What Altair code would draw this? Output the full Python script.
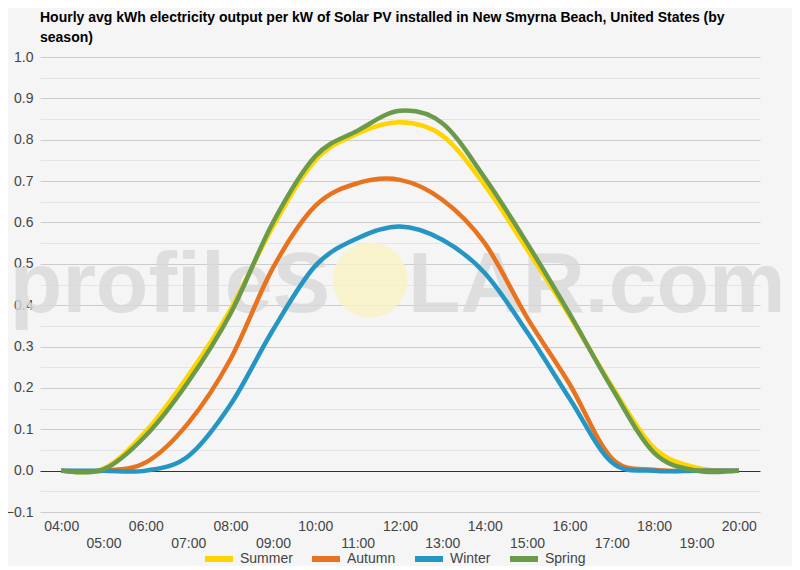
""" Hourly solar PV output per season, drawn with Altair """

import altair as alt
import pandas as pd

HOURS = list(range(4, 21))
SEASONS = ["Summer", "Autumn", "Winter", "Spring"]
COLORS = ["#FFD400", "#E8731F", "#2596C4", "#6A9A4A"]

SUMMER = [0, 0.005, 0.095, 0.23, 0.39, 0.59, 0.75, 0.815, 0.842, 0.81,
          0.69, 0.535, 0.375, 0.205, 0.055, 0.007, 0]
AUTUMN = [0, 0, 0.02, 0.115, 0.27, 0.49, 0.64, 0.695, 0.703, 0.655,
          0.55, 0.37, 0.21, 0.03, 0.002, 0, 0]
WINTER = [0, 0, 0, 0.035, 0.16, 0.34, 0.495, 0.562, 0.59, 0.558,
          0.478, 0.335, 0.175, 0.02, 0, 0, 0]
SPRING = [0, 0.003, 0.085, 0.215, 0.38, 0.60, 0.76, 0.822, 0.87, 0.84,
          0.708, 0.55, 0.38, 0.2, 0.043, 0, 0]

Y_TICKS = [round(-0.1 + 0.05 * i, 2) for i in range(23)]

FONT = "Arial, Liberation Sans"
TEXT_COLOR = "#444444"

rows = []
for season, values in zip(SEASONS, [SUMMER, AUTUMN, WINTER, SPRING]):
    for hour, value in zip(HOURS, values):
        rows.append({"hour": hour, "kwh": value, "season": season})
data = pd.DataFrame(rows)

hour_label = "(datum.value < 10 ? '0' : '') + datum.value + ':00'"

# watermark behind the lines
watermark_left = (
    alt.Chart(pd.DataFrame({"t": ["profileS"]}))
    .mark_text(align="right", baseline="alphabetic", fontSize=86, font=FONT,
               fontWeight="bold", color="#d9d9d9", opacity=0.8)
    .encode(x=alt.value(290), y=alt.value(255), text="t:N")
)
watermark_right = (
    alt.Chart(pd.DataFrame({"t": ["LAR.com"]}))
    .mark_text(align="left", baseline="alphabetic", fontSize=86, font=FONT,
               fontWeight="bold", color="#d9d9d9", opacity=0.8)
    .encode(x=alt.value(368), y=alt.value(255), text="t:N")
)
sun = (
    alt.Chart(pd.DataFrame({"t": ["sun"]}))
    .mark_point(shape="circle", filled=True, size=5600, color="#f8f1c6", opacity=0.85)
    .encode(x=alt.value(330), y=alt.value(223))
)

lines = (
    alt.Chart(data)
    .mark_line(interpolate="cardinal", strokeWidth=4.5, clip=False)
    .encode(
        x=alt.X(
            "hour:Q",
            scale=alt.Scale(domain=[3.5, 20.5], nice=False, zero=False),
            axis=alt.Axis(
                values=HOURS,
                labelExpr=f"datum.value % 2 == 1 ? ['', {hour_label}] : {hour_label}",
                grid=False,
                ticks=False,
                domain=False,
                labelFontSize=14,
                labelFont=FONT,
                labelColor=TEXT_COLOR,
                labelPadding=7,
                labelLineHeight=17,
                labelFlush=False,
                labelOverlap=False,
            ),
        ).title(None),
        y=alt.Y(
            "kwh:Q",
            scale=alt.Scale(domain=[-0.1, 1.0], nice=False, zero=False),
            axis=alt.Axis(
                values=Y_TICKS,
                labelExpr="abs(datum.value * 10 - round(datum.value * 10)) > 0.01 ? '' : format(datum.value, '.1f')",
                gridColor={
                    "condition": [
                        {"test": "abs(datum.value) < 0.001", "value": "#333333"},
                        {"test": "abs(datum.value * 10 - round(datum.value * 10)) > 0.01", "value": "#e4e4e4"},
                    ],
                    "value": "#cccccc",
                },
                ticks=False,
                domain=False,
                labelFontSize=14,
                labelFont=FONT,
                labelColor=TEXT_COLOR,
                labelPadding=7,
            ),
        ).title(None),
        color=alt.Color(
            "season:N",
            scale=alt.Scale(domain=SEASONS, range=COLORS),
            legend=alt.Legend(
                title=None,
                orient="none",
                direction="horizontal",
                legendX=162,
                legendY=485,
                symbolType="stroke",
                symbolStrokeWidth=6,
                symbolSize=784,
                labelFontSize=14,
                labelFont=FONT,
                labelColor=TEXT_COLOR,
                columnPadding=7,
            ),
        ),
    )
)

chart = (
    alt.layer(watermark_left, watermark_right, sun, lines)
    .properties(
        width=720,
        height=455,
        background="#f5f5f5",
        padding={"left": 32, "top": 49, "right": 32, "bottom": 54},
        autosize=alt.AutoSizeParams(type="none"),
        title=alt.Title(
            [
                "Hourly avg kWh electricity output per kW of Solar PV installed in New Smyrna Beach, United States (by",
                "season)",
            ],
            anchor="start",
            frame="group",
            font=FONT,
            fontSize=14,
            fontWeight="bold",
            color="#000000",
            lineHeight=20,
            offset=5,
        ),
    )
    .configure_view(stroke=None)
)

chart.save("out.html", embed_options={"renderer": "svg", "actions": False})
